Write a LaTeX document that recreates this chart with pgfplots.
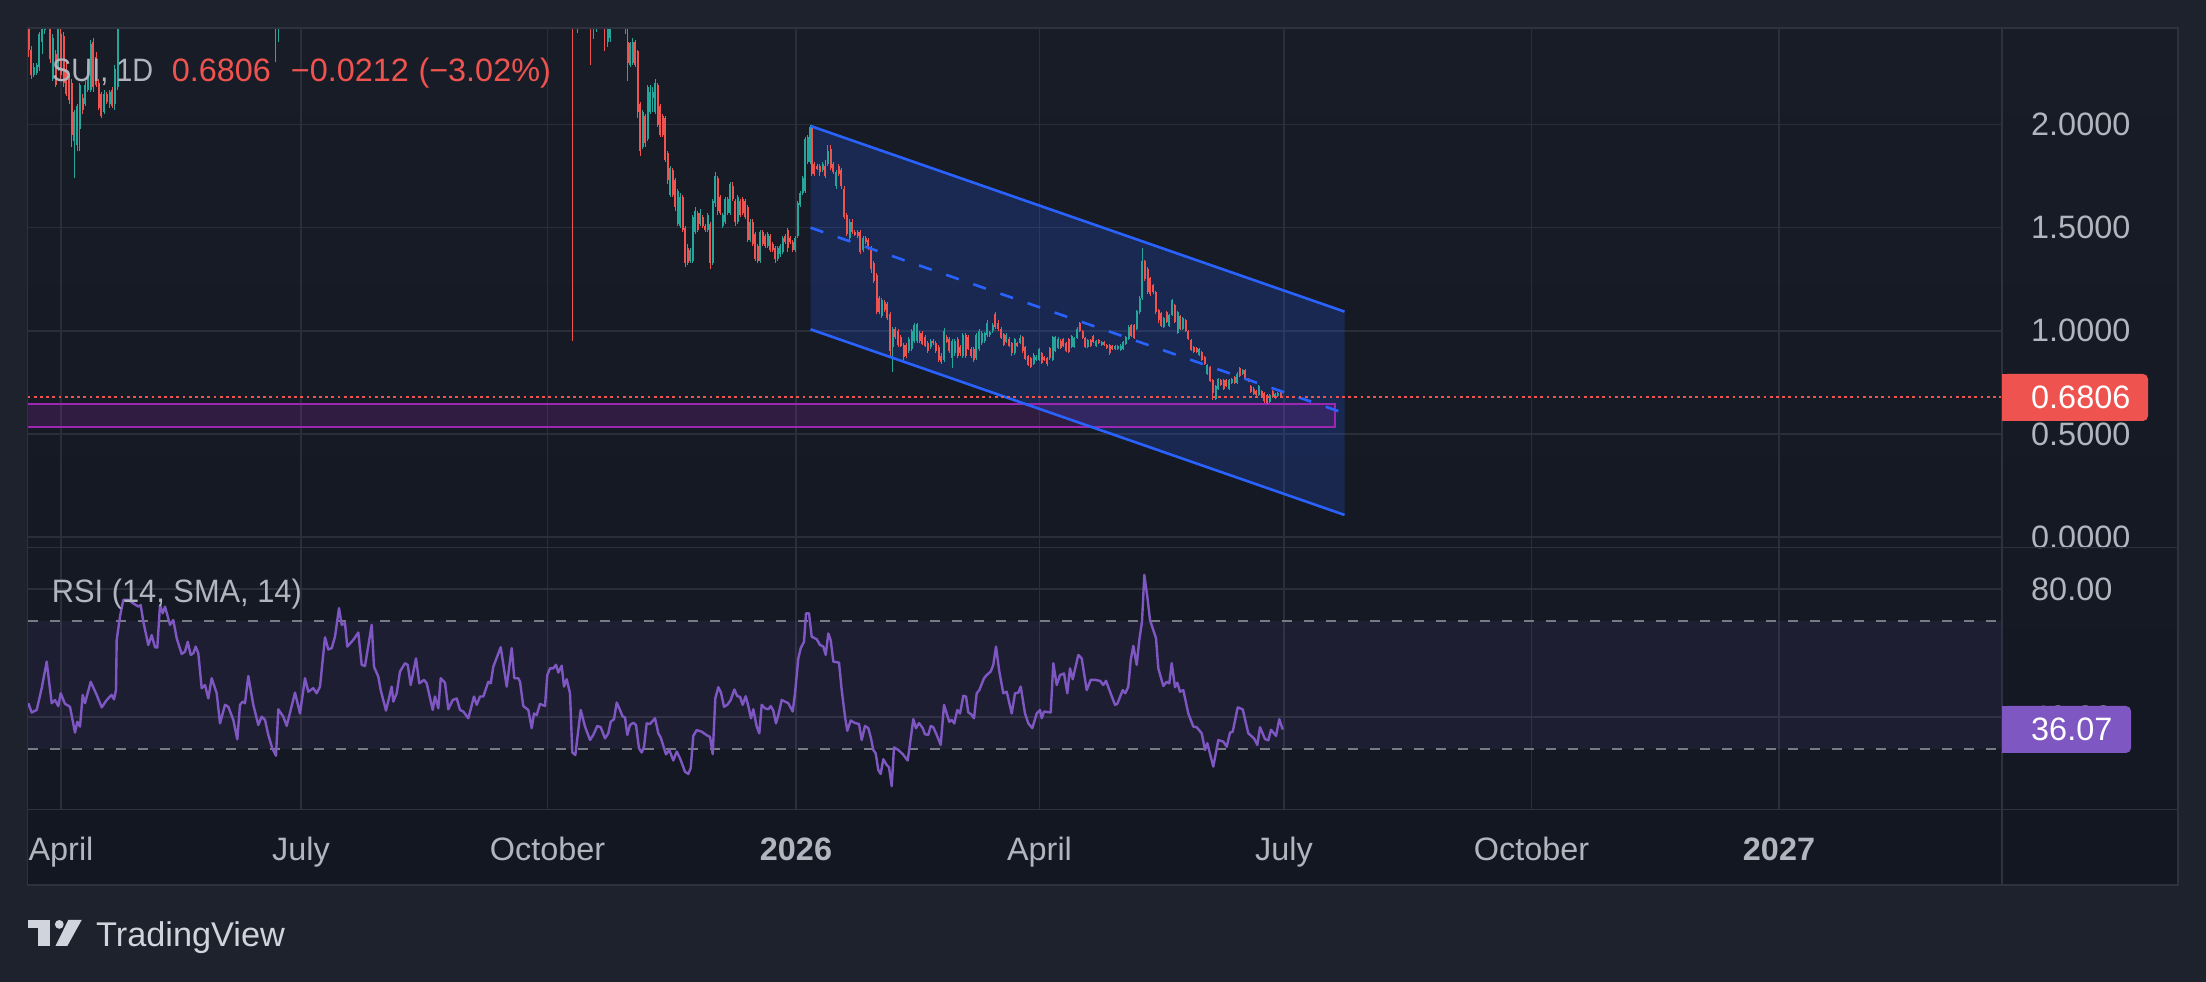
\documentclass[border=0pt]{standalone}
\usepackage{fontspec}
\setmainfont{Liberation Sans}
\newfontfamily\narrowA[FakeStretch=0.89]{Liberation Sans}
\newfontfamily\narrowB[FakeStretch=0.951]{Liberation Sans}
\usepackage{pgfplots}
\pgfplotsset{compat=1.18}
\usepackage{pgfplotstable}

\definecolor{outerbg}{RGB}{30,34,45}
\definecolor{paneltop}{RGB}{24,28,39}
\definecolor{panelbot}{RGB}{19,23,34}
\definecolor{gridc}{RGB}{42,46,57}
\definecolor{borderc}{RGB}{46,50,62}
\definecolor{labc}{RGB}{178,181,190}
\definecolor{upcol}{RGB}{38,166,154}
\definecolor{dncol}{RGB}{239,83,80}
\definecolor{chblue}{RGB}{41,98,255}
\definecolor{purp}{RGB}{156,39,176}
\definecolor{rsic}{RGB}{126,87,194}
\definecolor{dashc}{RGB}{120,123,134}
\definecolor{logoc}{RGB}{209,212,220}

\newcommand{\tf}{\fontsize{32.4pt}{38pt}\selectfont}

% rising candles: x o h l c
\pgfplotstableread{
x o h l c
33.9 2.24 2.30 2.23 2.28
36.6 2.25 2.30 2.24 2.29
39.3 2.28 2.45 2.26 2.44
42.0 2.40 2.48 2.34 2.47
44.7 2.46 2.55 2.44 2.52
52.8 2.22 2.44 2.21 2.42
58.2 2.27 2.50 2.26 2.47
74.4 1.92 2.07 1.74 2.06
77.1 1.90 2.10 1.87 2.09
79.8 1.98 2.20 1.87 2.19
85.2 2.10 2.21 2.09 2.19
87.9 2.17 2.29 2.16 2.27
90.6 2.17 2.41 2.16 2.39
104.1 2.06 2.17 2.05 2.15
109.5 2.10 2.17 2.08 2.16
114.9 2.10 2.29 2.07 2.27
117.6 2.18 2.62 2.17 2.60
278.0 2.62 2.85 2.40 2.80
577.7 2.85 3.00 2.444 2.95
593.3 2.60 2.80 2.417 2.75
596.0 2.62 2.80 2.449 2.75
607.7 2.40 2.60 2.375 2.55
610.4 2.42 2.60 2.40 2.55
630 2.287 2.40 2.28 2.396
632.5 2.30 2.42 2.29 2.40
642.5 1.89 2.07 1.88 2.06
647.5 1.93 2.19 1.92 2.18
650 2.06 2.19 2.05 2.16
652.5 2.13 2.18 2.06 2.16
655 2.06 2.22 2.05 2.20
670 1.66 1.80 1.65 1.79
677.5 1.52 1.69 1.51 1.68
680 1.51 1.67 1.50 1.65
690 1.34 1.40 1.33 1.39
692.5 1.34 1.56 1.33 1.55
695 1.48 1.60 1.47 1.58
700 1.52 1.59 1.51 1.57
707.5 1.49 1.57 1.48 1.56
712.5 1.33 1.64 1.32 1.63
715 1.62 1.77 1.60 1.75
722.5 1.51 1.57 1.50 1.56
725 1.53 1.65 1.52 1.64
727.5 1.57 1.65 1.56 1.64
730 1.57 1.72 1.56 1.71
737.5 1.53 1.66 1.52 1.65
750 1.44 1.54 1.43 1.53
760 1.34 1.49 1.33 1.48
767.5 1.41 1.48 1.40 1.47
777.5 1.35 1.41 1.34 1.40
780 1.37 1.42 1.36 1.41
782.5 1.38 1.46 1.37 1.45
795 1.39 1.46 1.38 1.45
797.5 1.46 1.63 1.45 1.62
800 1.61 1.68 1.60 1.67
802.5 1.67 1.75 1.66 1.74
805 1.68 1.94 1.67 1.93
807.5 1.82 1.95 1.81 1.94
810 1.82 2.00 1.81 1.99
822.5 1.78 1.82 1.77 1.81
827.9 1.81 1.90 1.80 1.87
836.0 1.70 1.78 1.69 1.77
849.5 1.45 1.54 1.44 1.53
863.0 1.39 1.46 1.38 1.45
881.9 1.07 1.16 1.06 1.15
892.7 0.92 1.02 0.80 1.01
908.9 0.90 0.97 0.89 0.96
911.6 0.91 1.01 0.90 1.00
914.3 0.95 1.04 0.94 1.03
917.0 0.95 1.04 0.94 1.035
930.5 0.92 0.96 0.91 0.95
944.0 0.86 1.015 0.85 1.00
952.1 0.87 0.96 0.82 0.95
954.8 0.89 0.96 0.88 0.95
962.9 0.88 0.99 0.87 0.98
976.4 0.87 0.99 0.86 0.98
979.1 0.91 1.01 0.90 1.00
981.8 0.94 1.00 0.93 0.99
984.5 0.95 0.995 0.94 0.99
987.2 0.98 1.05 0.97 1.04
989.9 0.98 1.00 0.97 0.995
992.6 1.00 1.04 0.99 1.03
1006.4 0.947 0.99 0.94 0.98
1014.6 0.89 0.965 0.885 0.96
1020.0 0.94 0.98 0.935 0.965
1033.6 0.84 0.89 0.835 0.885
1036.3 0.86 0.885 0.855 0.875
1039.0 0.86 0.915 0.855 0.91
1052.6 0.86 0.975 0.855 0.97
1055.3 0.90 0.975 0.895 0.97
1058.0 0.915 0.97 0.91 0.96
1071.6 0.92 0.98 0.915 0.975
1074.3 0.92 0.97 0.915 0.965
1077.0 0.965 1.02 0.96 1.01
1087.9 0.92 0.96 0.915 0.955
1096.0 0.925 0.955 0.92 0.95
1101.5 0.93 0.95 0.925 0.945
1115.0 0.91 0.93 0.905 0.925
1117.7 0.91 0.93 0.905 0.925
1120.5 0.905 0.935 0.90 0.925
1123.2 0.91 0.95 0.905 0.945
1125.9 0.935 0.975 0.93 0.97
1128.6 0.96 1.03 0.955 1.02
1136.8 1.01 1.10 1.005 1.095
1139.5 1.09 1.17 1.08 1.16
1142.2 1.16 1.40 1.15 1.34
1163.9 1.02 1.065 1.015 1.06
1169.3 1.025 1.08 1.02 1.075
1172.0 1.075 1.155 1.07 1.15
1177.5 0.99 1.095 0.985 1.09
1182.9 1.01 1.065 1.005 1.06
1199.2 0.885 0.915 0.88 0.91
1207.3 0.79 0.84 0.785 0.835
1215.5 0.67 0.735 0.664 0.73
1218.2 0.72 0.77 0.715 0.765
1229.1 0.72 0.765 0.715 0.76
1231.8 0.745 0.77 0.74 0.765
1237.2 0.745 0.80 0.74 0.79
1242.6 0.79 0.815 0.785 0.81
1258.9 0.69 0.735 0.685 0.73
1269.8 0.655 0.695 0.65 0.69
1275.2 0.675 0.70 0.67 0.695
1277.9 0.685 0.705 0.68 0.70
}\upT

% falling candles: x o h l c
\pgfplotstableread{
x o h l c
28.5 2.55 2.60 2.33 2.36
31.2 2.36 2.38 2.22 2.24
47.4 2.60 2.65 2.50 2.55
50.1 2.55 2.58 2.30 2.32
55.5 2.34 2.36 2.18 2.19
60.9 2.44 2.48 2.22 2.24
63.6 2.43 2.45 2.18 2.20
66.3 2.27 2.30 2.14 2.15
69.0 2.22 2.24 2.10 2.12
71.7 2.20 2.22 1.89 1.95
82.5 2.13 2.15 2.05 2.07
93.3 2.40 2.42 2.16 2.18
96.0 2.33 2.35 2.18 2.19
98.7 2.20 2.22 2.07 2.08
101.4 2.15 2.16 2.03 2.04
106.8 2.15 2.16 2.10 2.11
112.2 2.17 2.18 2.08 2.09
275.3 2.75 2.80 2.305 2.60
572.7 3.35 3.45 0.949 2.75
590.7 2.75 2.80 2.291 2.65
604.3 2.60 2.70 2.355 2.50
625 2.55 2.60 2.44 2.50
627.5 2.40 2.47 2.213 2.30
635 2.40 2.41 2.28 2.29
637.5 2.355 2.36 2.03 2.06
640 2.10 2.11 1.849 1.87
645 2.04 2.05 1.89 1.91
657.5 2.19 2.20 1.99 2.00
660 2.09 2.10 1.94 1.95
662.5 2.04 2.05 1.94 1.95
665 2.03 2.04 1.82 1.83
667.5 1.86 1.87 1.71 1.73
672.5 1.78 1.79 1.65 1.66
675 1.73 1.74 1.58 1.60
682.5 1.65 1.66 1.48 1.49
685 1.50 1.51 1.31 1.33
687.5 1.40 1.42 1.32 1.33
697.5 1.57 1.58 1.48 1.49
702.5 1.55 1.56 1.50 1.51
705 1.51 1.52 1.48 1.49
710 1.52 1.53 1.30 1.33
717.5 1.74 1.75 1.56 1.58
720 1.65 1.66 1.56 1.57
732.5 1.70 1.72 1.63 1.64
735 1.63 1.64 1.51 1.53
740 1.63 1.64 1.55 1.56
742.5 1.64 1.65 1.56 1.57
745 1.63 1.64 1.54 1.55
747.5 1.60 1.61 1.43 1.44
752.5 1.53 1.54 1.41 1.42
755 1.47 1.48 1.34 1.35
757.5 1.41 1.42 1.33 1.34
762.5 1.48 1.49 1.41 1.42
765 1.46 1.47 1.40 1.41
770 1.46 1.47 1.38 1.39
772.5 1.42 1.43 1.38 1.39
775 1.40 1.41 1.33 1.35
785 1.46 1.47 1.42 1.43
787.5 1.49 1.50 1.38 1.40
790 1.45 1.46 1.42 1.43
792.5 1.43 1.44 1.38 1.39
811.7 1.99 2.00 1.75 1.76
814.4 1.81 1.82 1.75 1.76
817.1 1.80 1.81 1.78 1.785
819.8 1.80 1.81 1.75 1.77
825.2 1.80 1.83 1.74 1.75
830.6 1.88 1.90 1.78 1.79
833.3 1.81 1.82 1.76 1.77
838.7 1.80 1.81 1.75 1.76
841.4 1.78 1.79 1.69 1.70
844.1 1.69 1.70 1.54 1.55
846.8 1.56 1.57 1.46 1.47
852.2 1.53 1.54 1.47 1.48
854.9 1.48 1.49 1.46 1.465
857.6 1.48 1.49 1.45 1.46
860.3 1.48 1.49 1.37 1.38
865.7 1.45 1.46 1.42 1.43
868.4 1.44 1.45 1.39 1.40
871.1 1.40 1.41 1.28 1.30
873.8 1.33 1.34 1.23 1.24
876.5 1.27 1.28 1.08 1.09
879.2 1.16 1.17 1.08 1.09
884.6 1.14 1.15 1.09 1.10
887.3 1.13 1.14 1.05 1.06
890.0 1.08 1.09 0.88 0.90
895.4 1.01 1.02 0.96 0.97
898.1 1.00 1.01 0.92 0.93
900.8 0.97 0.98 0.92 0.925
903.5 0.93 0.94 0.86 0.875
906.2 0.93 0.94 0.87 0.88
919.7 0.99 1.00 0.94 0.95
922.4 0.99 1.00 0.93 0.935
925.1 0.97 0.98 0.92 0.925
927.8 0.94 0.95 0.89 0.90
933.2 0.95 0.96 0.93 0.94
935.9 0.94 0.95 0.89 0.90
938.6 0.92 0.93 0.85 0.86
941.3 0.88 0.89 0.84 0.85
946.7 0.97 0.98 0.94 0.945
949.4 0.96 0.97 0.89 0.90
957.5 0.96 0.97 0.87 0.88
960.2 0.92 0.93 0.88 0.89
965.6 0.98 0.99 0.87 0.88
968.3 0.97 0.98 0.905 0.91
971.0 0.91 0.92 0.87 0.88
973.7 0.91 0.92 0.85 0.86
995.3 1.08 1.09 1.01 1.02
998.0 1.04 1.05 1.00 1.01
1001.0 1.01 1.02 0.96 0.965
1003.7 0.985 0.99 0.925 0.93
1009.1 0.96 0.97 0.92 0.925
1011.9 0.94 0.945 0.88 0.89
1017.3 0.94 0.945 0.92 0.925
1022.7 0.97 0.975 0.89 0.90
1025.4 0.92 0.925 0.86 0.865
1028.2 0.88 0.885 0.83 0.835
1030.9 0.87 0.875 0.82 0.825
1041.7 0.89 0.895 0.84 0.845
1044.4 0.875 0.88 0.855 0.86
1047.2 0.87 0.875 0.83 0.84
1049.9 0.915 0.92 0.86 0.87
1060.7 0.95 0.96 0.91 0.915
1063.4 0.96 0.965 0.92 0.925
1066.2 0.94 0.945 0.895 0.90
1068.9 0.96 0.965 0.89 0.895
1079.7 1.04 1.045 0.995 1.00
1082.5 1.00 1.005 0.96 0.965
1085.2 0.965 0.97 0.915 0.92
1090.6 0.955 0.96 0.92 0.925
1093.3 0.975 0.98 0.94 0.945
1098.7 0.955 0.96 0.935 0.94
1104.2 0.945 0.95 0.925 0.93
1106.9 0.93 0.935 0.91 0.915
1109.6 0.93 0.935 0.885 0.89
1112.3 0.925 0.93 0.905 0.91
1131.3 1.03 1.035 0.97 0.975
1134.0 1.03 1.035 0.96 0.965
1144.9 1.34 1.345 1.24 1.25
1147.6 1.30 1.31 1.18 1.19
1150.3 1.255 1.26 1.17 1.18
1153.0 1.22 1.225 1.18 1.19
1155.8 1.19 1.195 1.08 1.09
1158.5 1.10 1.105 1.04 1.05
1161.2 1.085 1.09 1.02 1.025
1166.6 1.09 1.095 1.04 1.045
1174.8 1.125 1.13 1.04 1.045
1180.2 1.07 1.075 1.005 1.01
1185.6 1.05 1.055 0.995 1.00
1188.3 1.00 1.005 0.955 0.96
1191.1 0.955 0.96 0.90 0.905
1193.8 0.92 0.925 0.89 0.895
1196.5 0.915 0.92 0.89 0.895
1201.9 0.895 0.90 0.855 0.86
1204.6 0.875 0.88 0.835 0.84
1210.1 0.825 0.83 0.75 0.755
1212.8 0.76 0.765 0.664 0.70
1220.9 0.76 0.765 0.73 0.735
1223.6 0.76 0.765 0.715 0.72
1226.3 0.76 0.765 0.725 0.73
1234.5 0.775 0.78 0.74 0.745
1239.9 0.82 0.825 0.775 0.78
1245.4 0.81 0.815 0.76 0.765
1248.1 0.765 0.77 0.75 0.755
1250.8 0.73 0.735 0.70 0.705
1253.5 0.72 0.725 0.69 0.695
1256.2 0.71 0.715 0.685 0.69
1261.6 0.71 0.715 0.68 0.685
1264.4 0.70 0.705 0.65 0.66
1267.1 0.69 0.695 0.645 0.65
1272.5 0.71 0.715 0.675 0.68
1280.6 0.7018 0.71 0.675 0.6806
}\dnT

% RSI (14)
\pgfplotstableread{
x r
28.3 44.3
31.7 41.4
36.7 42.2
41.7 49.0
46.7 57.3
51.7 44.3
55 45.3
58.3 43.4
60.7 47.4
65 44.1
70 43.2
75 35.1
77.3 38.5
80 37.0
82.7 46.9
85 44.3
90.7 51.0
96.7 46.9
101.7 43.0
106.7 45.3
111.7 46.9
114 45.5
116 48.4
116.7 64.1
120 71.4
123.3 76.6
128.3 76.6
133.3 75.5
138.3 74.5
140.7 75.0
143.3 69.8
148.3 62.5
151.7 65.6
155 61.8
157.3 61.7
160 75.0
162.7 72.4
165 74.5
167.3 71.9
170 68.8
173.3 70.3
176.7 64.6
181.7 59.7
185 60.4
187.7 63.5
190.7 59.4
193.3 59.9
195.7 62.0
198.3 59.9
201.7 49.0
205 50.0
208.3 45.8
211.7 52.1
216.7 47.4
220 38.0
225 43.8
228.3 43.2
233.3 39.1
237.3 33.0
240 43.8
242.7 44.8
245 44.3
248.3 52.8
253.3 43.8
258.3 37.5
261.7 40.1
265 39.1
268.3 34.4
272.3 30.2
276 27.9
278.3 42.4
283.3 40.1
286.7 37.2
290.7 42.2
295 47.6
300 41.1
305 52.1
308.3 47.9
313.3 49.0
316.7 47.4
320 49.5
325 64.9
328.3 61.1
331.7 61.5
335 65.1
339 74.0
341.7 68.8
345 69.3
347.3 62.0
353.3 64.1
358.3 66.4
361.7 56.3
365 55.9
371.7 68.8
374 55.7
378.3 52.6
380.7 48.4
386 42.0
391.7 49.5
393.3 44.8
396.7 47.4
400 54.2
405 56.8
407.7 56.3
410.7 50.0
416 58.3
419.3 50.5
424 51.6
426.7 50.5
432.7 42.2
435 46.4
438.3 42.7
440.7 52.1
445 50.7
448.3 42.4
452.7 45.3
456.7 45.8
460 42.2
463.3 41.7
468.3 39.6
474 46.4
476.7 43.8
480 46.4
483.3 46.4
488.3 51.0
490.7 50.5
493.3 55.7
500.7 61.8
506.7 49.5
511.7 61.5
514.3 52.1
518.3 52.1
520 51.0
523.3 43.4
528.3 42.2
531.7 36.5
534 41.1
536.7 40.6
540 44.1
545 43.4
547.3 53.1
550 55.2
553.3 55.2
556 56.3
558.3 53.9
561.7 56.0
564 49.5
566.7 51.8
570 47.4
572.3 28.9
575.3 28.1
580.7 42.2
585 37.0
590 32.8
593.3 34.4
597.3 37.2
600.7 36.8
605 33.3
608.3 34.9
610.7 38.5
614 39.3
616.7 44.5
620 42.2
622.7 40.1
625 39.9
627.3 34.4
630 37.5
633.3 38.2
636 37.5
639 30.2
641.7 28.9
644 30.7
646.7 38.0
650 37.8
655 39.6
658.3 34.9
660.7 33.6
666 28.3
669.3 29.7
673.3 26.4
676.7 29.2
680 27.1
685 22.9
688.3 22.2
690.7 24.0
693.3 34.1
696.7 35.9
701.7 35.4
706.7 34.3
710 33.8
712.7 28.4
715.3 45.8
718.3 49.3
721 47.6
724 43.2
727.3 43.8
730.7 45.3
734.3 48.6
737.3 46.5
740 46.3
742.7 43.8
745.7 46.5
748 43.8
751 39.6
753.3 42.4
756.7 37.0
759.3 34.9
761.7 43.8
765 42.7
768.3 42.4
770.7 43.4
773.3 42.0
776 38.0
778.3 40.6
781.7 45.3
788.3 44.3
792.7 41.7
795 47.4
798.3 58.3
800.7 61.5
804 63.5
806 72.4
809 72.4
811.7 65.1
816.7 64.3
820 62.5
823.3 62.0
825.7 59.4
828.3 66.1
830.7 64.0
833.3 57.3
839 57.0
841.7 48.4
845 40.1
847.3 35.7
850.7 38.9
855 38.1
859 37.8
861.7 32.8
865 37.2
868.3 36.5
871 33.3
873.3 29.7
875.7 28.6
878.3 23.4
880.7 22.2
883.3 26.8
886.7 25.0
889 24.3
891.7 18.4
894 30.5
898.3 29.7
902.7 28.4
907.7 26.4
913.3 39.3
916 36.5
919 38.1
922.7 36.5
925 34.6
928.3 34.4
930.7 37.2
933.3 36.8
936.7 34.4
940.7 31.3
944 43.8
949.3 38.5
951.7 39.1
954.3 38.0
957.3 42.2
960 41.1
963.3 46.6
966 46.4
968.3 41.4
971 40.9
974 39.6
976.7 47.4
979.3 48.4
984 52.1
986.7 53.1
990.7 54.2
993.3 56.3
996 62.0
999.3 54.2
1003.3 47.4
1006.7 47.9
1011.7 41.1
1015 47.4
1018.3 47.6
1020.7 49.5
1025 41.1
1028.3 38.0
1032.3 36.5
1036.7 41.1
1040 42.2
1041.7 39.6
1044 41.7
1050.7 41.4
1053.3 56.8
1056.7 50.0
1060 53.1
1064 53.6
1067.3 47.4
1070 55.2
1072.7 51.8
1078.3 59.4
1081.7 58.3
1086.7 48.4
1090.7 51.6
1095 51.6
1100 51.3
1103.3 50.0
1106 51.3
1110 47.9
1115 43.8
1117.3 44.1
1122.7 48.4
1125.3 47.4
1128.3 49.5
1130.7 57.8
1133.3 62.2
1136.7 56.3
1139.3 64.1
1142 69.8
1144.3 84.4
1147.3 77.6
1150 70.3
1156 64.6
1158.3 55.2
1163.3 49.7
1166.7 51.0
1169.3 50.5
1171.7 56.8
1175 49.3
1177.3 50.7
1180 47.9
1183.3 48.4
1188.3 41.1
1193.3 37.0
1196.7 36.8
1201.7 34.9
1205 29.7
1207.3 31.8
1213.3 24.5
1218.3 32.8
1223.3 32.3
1226.7 30.7
1230 35.1
1232.7 35.4
1237.7 43.0
1242.7 42.4
1248.3 34.9
1254 33.3
1257.3 31.3
1260 36.8
1265 33.1
1268.3 32.7
1271 36.0
1276 34.1
1279.3 39.3
1282.7 36.07
}\rsiT

\pgfplotsset{
  tvaxis/.style={
    anchor=south west, scale only axis, width=1974.5pt,
    xmin=27.5, xmax=2002,
    axis line style={draw=none},
    tick style={draw=none},
    major tick length=0pt,
    xtick={61,301,547.5,796,1039.5,1284,1531.5,1779},
    xmajorgrids, ymajorgrids,
    grid style={gridc, line width=1.6pt},
    yticklabel pos=right,
    yticklabel style={anchor=west, inner sep=0pt, xshift=29pt, font=\tf, text=labc},
  },
  wick/.style={draw=none, mark=none, forget plot,
    error bars/.cd, y dir=plus, y explicit, error mark=none,
    error bar style={line width=0.9pt, draw=#1, solid}},
  body/.style={draw=none, mark=none, forget plot,
    error bars/.cd, y dir=plus, y explicit, error mark=none,
    error bar style={line width=2pt, draw=#1, solid}},
}

\begin{document}
\begin{tikzpicture}[x=1pt,y=1pt]
\fill[outerbg] (0,0) rectangle (2206,982);
\shade[top color=paneltop, bottom color=panelbot] (27.5,97) rectangle (2178,954);

% ---------------- price panel ----------------
\begin{axis}[tvaxis,
  at={(27.5pt,434.5pt)}, height=519.5pt,
  ymin=-0.0509, ymax=2.4685,
  xticklabels={,,,,,,,},
  ytick={0,0.5,1,1.5,2},
  yticklabels={0.0000,0.5000,1.0000,1.5000,2.0000},
]
% channel fill
\addplot[draw=none, fill=chblue, fill opacity=0.2, forget plot]
  coordinates {(810.6,1.993) (1344.5,1.093) (1344.5,0.107) (810.6,1.007) (810.6,1.993)};
% support zone
\addplot[draw=purp, line width=2pt, fill=purp, fill opacity=0.2, draw opacity=1, forget plot]
  coordinates {(0,0.6465) (1335,0.6465) (1335,0.535) (0,0.535) (0,0.6465)};
% candles
\addplot[wick=upcol] table[x=x, y=l, y error expr=\thisrow{h}-\thisrow{l}] {\upT};
\addplot[body=upcol] table[x=x, y=o, y error expr=\thisrow{c}-\thisrow{o}] {\upT};
\addplot[wick=dncol] table[x=x, y=l, y error expr=\thisrow{h}-\thisrow{l}] {\dnT};
\addplot[body=dncol] table[x=x, y=c, y error expr=\thisrow{o}-\thisrow{c}] {\dnT};
% channel lines
\addplot[chblue, line width=2.6pt, forget plot] coordinates {(810.6,1.993) (1344.5,1.093)};
\addplot[chblue, line width=2.6pt, forget plot] coordinates {(810.6,1.007) (1344.5,0.107)};
\addplot[chblue, line width=2.6pt, dash pattern=on 13.4pt off 15.3pt, forget plot]
  coordinates {(810.6,1.50) (1344.5,0.60)};
% last price line
\addplot[dncol, line width=2pt, dash pattern=on 2.8pt off 3.4pt, forget plot]
  coordinates {(27.5,0.6806) (2002,0.6806)};
\end{axis}

% ---------------- RSI panel ----------------
\begin{axis}[tvaxis,
  at={(27.5pt,172.5pt)}, height=262pt,
  ymin=11.09, ymax=92.97,
  xticklabels={April,July,October,\textbf{2026},April,July,October,\textbf{2027}},
  xticklabel style={anchor=base, inner sep=0pt, yshift=-51.5pt, font=\tf, text=labc},
  ytick={40,80},
  yticklabels={40.00,80.00},
]
\addplot[draw=none, fill=rsic, fill opacity=0.1, forget plot]
  coordinates {(27.5,30) (2002,30) (2002,70) (27.5,70) (27.5,30)};
\addplot[dashc, line width=2pt, dash pattern=on 10pt off 12pt, forget plot]
  coordinates {(27.5,70) (2002,70)};
\addplot[dashc, line width=2pt, dash pattern=on 10pt off 12pt, forget plot]
  coordinates {(27.5,30) (2002,30)};
\addplot[rsic, line width=2.4pt, line join=round, mark=none] table[x=x, y=r] {\rsiT};
\end{axis}

% panel borders and separators
\draw[borderc, line width=1.6pt] (27.5,97) rectangle (2178,954);
\draw[borderc, line width=1.6pt] (2002,97) -- (2002,954);
\draw[borderc, line width=1.6pt] (27.5,434.5) -- (2178,434.5);
\draw[borderc, line width=1.6pt] (27.5,172.5) -- (2178,172.5);

% last-value labels
\fill[dncol, rounded corners=5pt] (2002,561) rectangle (2148,608);
\fill[dncol] (2002,561) rectangle (2012,608);
\node[anchor=west, inner sep=0pt, text=white, font=\tf] at (2031,584.5) {0.6806};
\fill[rsic, rounded corners=5pt] (2002,229) rectangle (2131,276);
\fill[rsic] (2002,229) rectangle (2012,276);
\node[anchor=west, inner sep=0pt, text=white, font=\tf] at (2031,252.5) {36.07};

% legends
\node[anchor=base west, inner sep=0pt, text=labc, font=\narrowA\tf] at (52,900.3) {SUI, 1D};
\node[anchor=base west, inner sep=0pt, text=dncol, font=\tf] at (171.7,900.3) {0.6806};
\node[anchor=base west, inner sep=0pt, text=dncol, font=\tf] at (290.7,900.3) {−0.0212};
\node[anchor=base west, inner sep=0pt, text=dncol, font=\tf] at (418.3,900.3) {(−3.02\%)};
\node[anchor=base west, inner sep=0pt, text=labc, font=\narrowB\tf] at (51.7,379.7) {RSI (14, SMA, 14)};

% TradingView logo
\fill[logoc] (28.3,53.7) rectangle (50,62);
\fill[logoc] (38.3,36) rectangle (50,62);
\fill[logoc] (59.3,57.6) circle (4.4);
\fill[logoc] (68.3,62) -- (81.7,62) -- (67.3,36) -- (55.5,36) -- cycle;
\node[anchor=base west, inner sep=0pt, text=logoc, font=\fontsize{34.3pt}{40pt}\selectfont] at (96,35.3) {TradingView};

\pgfresetboundingbox
\path[use as bounding box] (0,0) rectangle (2206,982);
\end{tikzpicture}
\end{document}
